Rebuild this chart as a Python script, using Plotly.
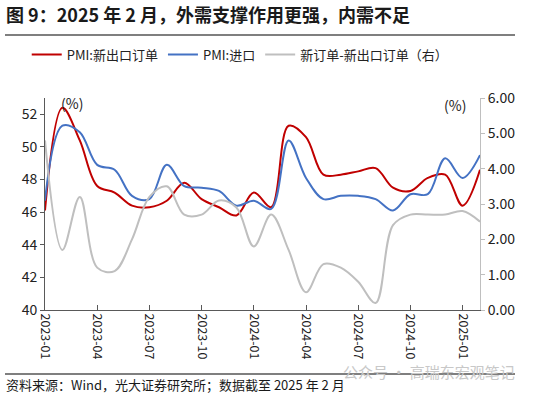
import plotly.graph_objects as go

months = ["2023-01","2023-02","2023-03","2023-04","2023-05","2023-06","2023-07","2023-08",
          "2023-09","2023-10","2023-11","2023-12","2024-01","2024-02","2024-03","2024-04",
          "2024-05","2024-06","2024-07","2024-08","2024-09","2024-10","2024-11","2024-12",
          "2025-01","2025-02"]
new_export_orders = [46.1, 52.4, 50.4, 47.6, 47.2, 46.4, 46.3, 46.7, 47.8, 46.8, 46.3, 45.8, 47.2,
                     46.3, 51.3, 50.6, 48.3, 48.3, 48.5, 48.7, 47.5, 47.3, 48.1, 48.3, 46.4, 48.6]
imports = [46.7, 51.3, 50.9, 48.9, 48.6, 47.0, 46.8, 48.9, 47.6, 47.5, 47.3, 46.4, 46.7,
           46.2, 50.4, 48.1, 46.8, 47.0, 47.0, 46.8, 46.1, 47.1, 47.1, 49.3, 48.1, 49.5]
order_gap = [4.8, 1.7, 3.2, 1.2, 1.1, 2.0, 3.2, 3.5, 2.7, 2.7, 3.1, 2.9, 1.8,
             2.7, 1.7, 0.5, 1.3, 1.2, 0.8, 0.2, 2.4, 2.7, 2.7, 2.7, 2.8, 2.5]
tick_months = ["2023-01","2023-04","2023-07","2023-10","2024-01","2024-04","2024-07","2024-10","2025-01"]
left_ticks = [40, 42, 44, 46, 48, 50, 52]
right_ticks = [0, 1, 2, 3, 4, 5, 6]

FONT = "Noto Sans CJK SC"
fig = go.Figure()
fig.add_trace(go.Scatter(x=months, y=new_export_orders, name="PMI:新出口订单", mode="lines",
                         line=dict(color="#C00000", width=2, shape="spline", smoothing=1.0)))
fig.add_trace(go.Scatter(x=months, y=imports, name="PMI:进口", mode="lines",
                         line=dict(color="#4472C4", width=2, shape="spline", smoothing=1.0)))
fig.add_trace(go.Scatter(x=months, y=order_gap, name="新订单-新出口订单（右）", mode="lines", yaxis="y2",
                         line=dict(color="#BFBFBF", width=2, shape="spline", smoothing=1.0)))

fig.update_layout(
    width=539, height=395,
    margin=dict(l=45, r=59, t=98, b=85),
    paper_bgcolor="white", plot_bgcolor="white",
    font=dict(family=FONT, size=13, color="#222222"),
    showlegend=True,
    legend=dict(orientation="h", x=-0.042, y=1.205, xanchor="left", yanchor="middle",
                font=dict(size=13, color="#222222"), itemwidth=30, tracegroupgap=0,
                bgcolor="rgba(0,0,0,0)"),
    xaxis=dict(type="category", range=[0, len(months) - 1], tickmode="array",
               tickvals=tick_months, ticktext=tick_months, tickangle=90,
               showline=True, linecolor="#595959", linewidth=1,
               ticks="inside", ticklen=5, tickcolor="#595959",
               showgrid=False, zeroline=False, automargin=False,
               tickfont=dict(size=12.5, color="#222222")),
    yaxis=dict(range=[40, 53], tickmode="array", tickvals=left_ticks,
               showline=True, linecolor="#595959", linewidth=1,
               ticks="outside", ticklen=4, tickcolor="#595959",
               showgrid=False, zeroline=False, tickfont=dict(size=14, color="#222222")),
    yaxis2=dict(range=[0, 6], overlaying="y", side="right", tickmode="array", tickvals=right_ticks,
                tickformat=".2f", showline=True, linecolor="#BFBFBF", linewidth=1,
                ticks="outside", ticklen=4, tickcolor="#BFBFBF",
                showgrid=False, zeroline=False, tickfont=dict(size=14, color="#222222")),
)

annotations = [
    dict(text="<b>图 9：2025 年 2 月，外需支撑作用更强，内需不足</b>", xref="paper", yref="paper",
         x=-41/435, y=(310-14)/212, xanchor="left", yanchor="middle", showarrow=False,
         font=dict(size=18, color="#1a1a1a")),
    dict(text="(%)", xref="paper", yref="paper", x=(72-45)/435, y=(310-103)/212,
         xanchor="center", yanchor="middle", showarrow=False, font=dict(size=14, color="#222222")),
    dict(text="(%)", xref="paper", yref="paper", x=(455-45)/435, y=(310-105)/212,
         xanchor="center", yanchor="middle", showarrow=False, font=dict(size=14, color="#222222")),
    dict(text="公众号 · 高瑞东宏观笔记", xref="paper", yref="paper", x=(517-45)/435, y=(310-371)/212,
         xanchor="right", yanchor="middle", showarrow=False, font=dict(size=15, color="#C8C8C8")),
    dict(text="资料来源：Wind，光大证券研究所；数据截至 2025 年 2 月", xref="paper", yref="paper",
         x=-41/435, y=(310-384)/212, xanchor="left", yanchor="middle", showarrow=False,
         font=dict(size=13, color="#1a1a1a")),
]
fig.update_layout(annotations=annotations)

fig.add_shape(type="line", xref="paper", yref="paper", x0=-40/435, x1=(515-45)/435,
              y0=(310-35)/212, y1=(310-35)/212, line=dict(color="black", width=1.2))
fig.add_shape(type="line", xref="paper", yref="paper", x0=-40/435, x1=(515-45)/435,
              y0=(310-374)/212, y1=(310-374)/212, line=dict(color="black", width=1.2))

fig.write_html("out.html", config={"displayModeBar": False},
               post_script="document.body.style.margin='0';")
